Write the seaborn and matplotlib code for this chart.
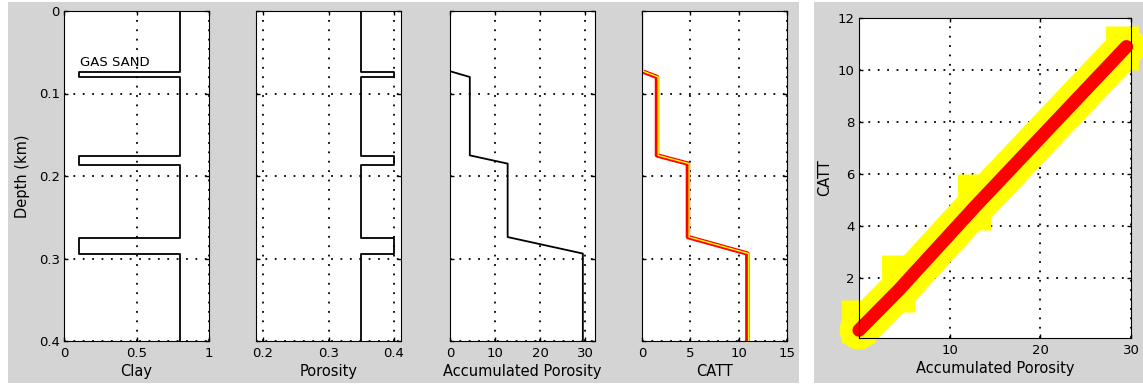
import numpy as np
import matplotlib
matplotlib.use("Agg")
import matplotlib.pyplot as plt
from matplotlib.patches import Rectangle
from matplotlib import transforms
import seaborn as sns

# ---- data ----
sand_top = [0.074, 0.176, 0.275]      # km
sand_bottom = [0.080, 0.187, 0.295]   # km
clay_shale, clay_sand = 0.8, 0.1
phi_shale, phi_sand = 0.35, 0.40

acc_depth = [0.0, 0.073, 0.080, 0.175, 0.185, 0.274, 0.294, 0.4]
acc_por = [0.0, 0.0, 4.4, 4.4, 12.8, 12.8, 29.5, 29.5]
catt = [0.0, 0.0, 1.55, 1.55, 4.75, 4.75, 10.9, 10.9]

# yellow envelope blocks in the crossplot (acc porosity, CATT low, CATT high)
blk_acc = [-0.1, 4.3, 12.7, 29.0]
blk_lo = [-0.5, 0.7, 3.85, 10.0]
blk_hi = [1.15, 2.9, 6.0, 11.7]

depth_ticks = [0, 0.1, 0.2, 0.3, 0.4]
depth_labels = ["0", "0.1", "0.2", "0.3", "0.4"]
clay_ticks, clay_labels = [0, 0.5, 1], ["0", "0.5", "1"]
phi_ticks, phi_labels = [0.2, 0.3, 0.4], ["0.2", "0.3", "0.4"]
acc_ticks, acc_labels = [0, 10, 20, 30], ["0", "10", "20", "30"]
catt_ticks, catt_labels = [0, 5, 10, 15], ["0", "5", "10", "15"]
xp_xticks, xp_yticks = [10, 20, 30], [2, 4, 6, 8, 10, 12]

# step profiles built from the sand layers
step_depth = [0.0]
step_clay = [clay_shale]
step_phi = [phi_shale]
for t, b in zip(sand_top, sand_bottom):
    step_depth += [t, t, b, b]
    step_clay += [clay_shale, clay_sand, clay_sand, clay_shale]
    step_phi += [phi_shale, phi_sand, phi_sand, phi_shale]
step_depth.append(0.4)
step_clay.append(clay_shale)
step_phi.append(phi_shale)

# ---- style ----
sns.set_style("white", {
    "xtick.direction": "in", "ytick.direction": "in",
    "axes.edgecolor": "black", "axes.linewidth": 1.1,
    "text.color": "black", "axes.labelcolor": "black",
    "xtick.color": "black", "ytick.color": "black",
})
plt.rcParams["font.family"] = ["DejaVu Sans"]
plt.rcParams["xtick.major.size"] = 3
plt.rcParams["ytick.major.size"] = 3
plt.rcParams["xtick.major.width"] = 1
plt.rcParams["ytick.major.width"] = 1
plt.rcParams["xtick.labelsize"] = 9.5
plt.rcParams["ytick.labelsize"] = 9.5
plt.rcParams["axes.labelsize"] = 10.5
plt.rcParams["xtick.major.pad"] = 4
plt.rcParams["ytick.major.pad"] = 3

W, H = 1143, 385
fig = plt.figure(figsize=(W / 100, H / 100), dpi=100)
fig.patch.set_facecolor("white")
gray = "#d4d4d4"
fig.add_artist(Rectangle((8 / W, 2 / H), 791 / W, 381 / H, transform=fig.transFigure,
                         facecolor=gray, edgecolor="none", zorder=-10))
fig.add_artist(Rectangle((814 / W, 2 / H), 329 / W, 381 / H, transform=fig.transFigure,
                         facecolor=gray, edgecolor="none", zorder=-10))

grid_kw = dict(color="black", linestyle=(0, (1, 4.2)), linewidth=1.3)


def frame(ax):
    ax.set_facecolor("white")
    ax.tick_params(which="both", top=True, right=True, bottom=True, left=True, colors="black")
    ax.grid(True, **grid_kw)
    for s in ax.spines.values():
        s.set_visible(True)
        s.set_color("black")
        s.set_zorder(5)


lefts = [64, 256, 450, 642]
axs = [fig.add_axes([l / W, 1 - 341 / H, 145 / W, 330 / H]) for l in lefts]

# Clay
ax = axs[0]
sns.lineplot(x=step_clay, y=step_depth, sort=False, estimator=None, color="black", lw=1.3, ax=ax)
ax.text(0.11, 0.062, "GAS SAND", fontsize=9.5, va="center", ha="left")
ax.set_xlim(0, 1)
ax.set_xticks(clay_ticks, clay_labels)
ax.set_xlabel("Clay")

# Porosity
ax = axs[1]
sns.lineplot(x=step_phi, y=step_depth, sort=False, estimator=None, color="black", lw=1.3, ax=ax)
ax.set_xlim(0.1893, 0.4107)
ax.set_xticks(phi_ticks, phi_labels)
ax.set_xlabel("Porosity")

# Accumulated porosity
ax = axs[2]
sns.lineplot(x=acc_por, y=acc_depth, sort=False, estimator=None, color="black", lw=1.3, ax=ax)
ax.set_xlim(0, 32.2)
ax.set_xticks(acc_ticks, acc_labels)
ax.set_xlabel("Accumulated Porosity")

# CATT
ax = axs[3]
sns.lineplot(x=catt[1:], y=acc_depth[1:], sort=False, estimator=None, color="#ff0000", lw=3.2,
             ax=ax, solid_joinstyle="round", solid_capstyle="butt")
sns.lineplot(x=catt, y=acc_depth, sort=False, estimator=None, color="#ffff00", lw=1.0, ax=ax,
             transform=transforms.offset_copy(ax.transData, fig=fig, x=1.2, y=0, units="dots"))
ax.set_xlim(0, 15)
ax.set_xticks(catt_ticks, catt_labels)
ax.set_xlabel("CATT")

for i, ax in enumerate(axs):
    ax.set_ylim(0.4, 0)
    ax.set_yticks(depth_ticks, depth_labels if i == 0 else [""] * len(depth_ticks))
    ax.set_ylabel("Depth (km)" if i == 0 else "")
    ax.xaxis.labelpad = 3
    frame(ax)
axs[0].yaxis.labelpad = 6

# Crossplot
ax = fig.add_axes([859 / W, 1 - 338 / H, 272 / W, 320 / H])
sns.lineplot(x=acc_por, y=catt, sort=False, estimator=None, color="#ffff00", lw=28, ax=ax,
             solid_capstyle="round", solid_joinstyle="round", clip_on=False, zorder=3)
for a, lo, hi in zip(blk_acc, blk_lo, blk_hi):
    ax.plot([a, a], [lo, hi], color="#ffff00", lw=24, solid_capstyle="butt",
            clip_on=False, zorder=3)
sns.lineplot(x=acc_por, y=catt, sort=False, estimator=None, color="#ff0000", lw=9.5, ax=ax,
             solid_capstyle="round", solid_joinstyle="round", clip_on=False, zorder=4)
ax.set_xlim(0, 30)
ax.set_ylim(-0.3, 12)
ax.set_xticks(xp_xticks, [str(v) for v in xp_xticks])
ax.set_yticks(xp_yticks, [str(v) for v in xp_yticks])
ax.set_xlabel("Accumulated Porosity")
ax.set_ylabel("CATT")
ax.xaxis.labelpad = 3
frame(ax)

fig.savefig("out.png", dpi=100, facecolor="white")
